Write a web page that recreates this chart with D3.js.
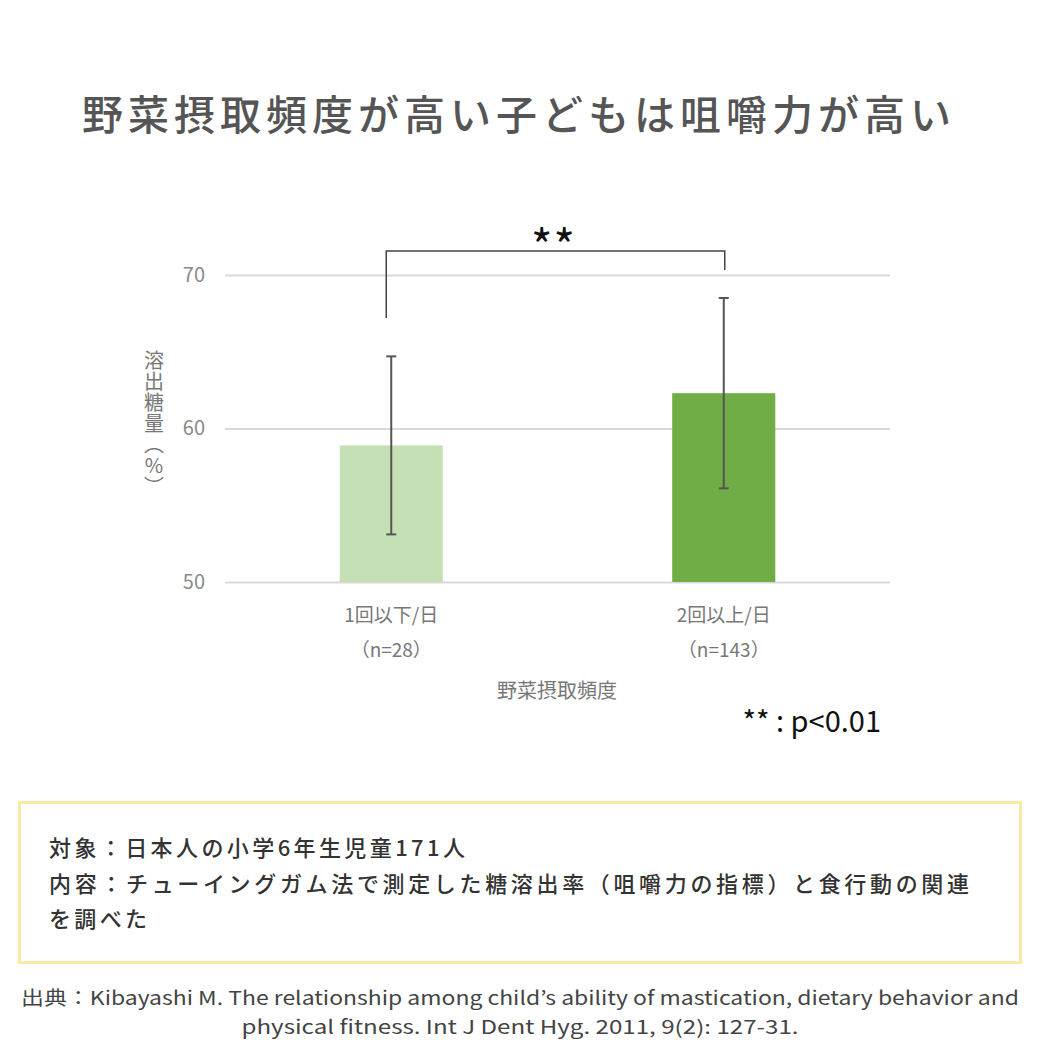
<!DOCTYPE html>
<html><head><meta charset="utf-8">
<script src="https://cdn.jsdelivr.net/npm/d3@7"></script>
<style>
body{margin:0;background:#fff;}
svg{display:block;}
text{font-family:"Noto Sans CJK JP","Noto Sans",sans-serif;}
</style></head>
<body>
<script>
const title = "野菜摂取頻度が高い子どもは咀嚼力が高い";
const categories = ["1回以下/日", "2回以上/日"];
const sampleLabels = ["（n=28）", "（n=143）"];
const means = [58.9, 62.3];
const errors = [5.8, 6.2];
const barColors = ["#c5e0b4", "#70ad47"];
const yTicks = [50, 60, 70];
const yLabel = "溶出糖量（%）";
const xLabel = "野菜摂取頻度";
const sigMark = "**";
const sigNote = "** : p<0.01";
const boxLines = ["対象：日本人の小学6年生児童171人", "内容：チューイングガム法で測定した糖溶出率（咀嚼力の指標）と食行動の関連", "を調べた"];
const citeLines = ["出典：Kibayashi M. The relationship among child’s ability of mastication, dietary behavior and", "physical fitness. Int J Dent Hyg. 2011, 9(2): 127-31."];

const W = 1040, H = 1040;
const svg = d3.select("body").append("svg").attr("width", W).attr("height", H);

svg.append("text").attr("x", 519).attr("y", 112)
  .attr("text-anchor", "middle").attr("dominant-baseline", "central")
  .attr("font-size", 41).attr("font-weight", 500).attr("letter-spacing", 5)
  .attr("fill", "#555").text(title);

const left = 225, right = 890;
const y = d3.scaleLinear().domain([50, 70]).range([582, 275]);
const x = d3.scaleBand().domain(categories).range([left, right]).paddingInner(0.69).paddingOuter(0.345);

// grid
const g = svg.append("g");
const yAxis = d3.axisLeft(y).tickValues(yTicks).tickSize(-(right - left)).tickPadding(20);
const ax = g.append("g").attr("transform", `translate(${left},0)`).call(yAxis);
ax.select(".domain").remove();
ax.selectAll(".tick line").attr("stroke", "#d9d9d9").attr("stroke-width", 2);
ax.selectAll(".tick text").attr("fill", "#8a8a8a").attr("font-size", 20)
  .attr("font-family", "'Noto Sans','Noto Sans CJK JP',sans-serif");

// bars
g.selectAll("rect.bar").data(categories).join("rect")
  .attr("x", d => x(d)).attr("width", x.bandwidth())
  .attr("y", (d, i) => y(means[i])).attr("height", (d, i) => y(50) - y(means[i]))
  .attr("fill", (d, i) => barColors[i]);

// error bars
categories.forEach((c, i) => {
  const cx = x(c) + x.bandwidth() / 2;
  const y1 = y(means[i] + errors[i]), y2 = y(means[i] - errors[i]);
  g.append("line").attr("x1", cx).attr("x2", cx).attr("y1", y1).attr("y2", y2).attr("stroke", "#555").attr("stroke-width", 2);
  [y1, y2].forEach(yy => g.append("line").attr("x1", cx - 5).attr("x2", cx + 5).attr("y1", yy).attr("y2", yy).attr("stroke", "#555").attr("stroke-width", 2));
  svg.append("text").attr("x", cx).attr("y", 613).attr("text-anchor", "middle").attr("dominant-baseline", "central")
    .attr("font-size", 19).attr("fill", "#777").text(c);
  svg.append("text").attr("x", cx).attr("y", 648).attr("text-anchor", "middle").attr("dominant-baseline", "central")
    .attr("font-size", 19).attr("fill", "#777").text(sampleLabels[i]);
});

// significance bracket
const bx1 = x(categories[0]) + x.bandwidth() / 2 - 5, bx2 = x(categories[1]) + x.bandwidth() / 2 + 1;
const by = 251;
svg.append("path").attr("d", `M${bx1},318 V${by} H${bx2} V270`).attr("fill", "none").attr("stroke", "#444").attr("stroke-width", 1.5);
svg.append("text").attr("x", (bx1 + bx2) / 2 - 2).attr("y", 264).attr("text-anchor", "middle")
  .attr("font-size", 46).attr("letter-spacing", 1).attr("fill", "#111")
  .attr("font-family", "'DejaVu Sans',sans-serif").text(sigMark);

// y label vertical
svg.append("text").attr("x", 154).attr("y", 350)
  .style("writing-mode", "vertical-rl").style("text-orientation", "upright")
  .attr("text-anchor", "start").attr("letter-spacing", 1)
  .attr("font-size", 20).attr("fill", "#777").text(yLabel);

// x label
svg.append("text").attr("x", 557).attr("y", 689).attr("text-anchor", "middle").attr("dominant-baseline", "central")
  .attr("font-size", 20).attr("fill", "#777").text(xLabel);

svg.append("text").attr("x", 881).attr("y", 732).attr("text-anchor", "end")
  .attr("font-size", 29).attr("fill", "#111").attr("font-family", "'Noto Sans','Noto Sans CJK JP',sans-serif").text(sigNote);

// info box
svg.append("rect").attr("x", 19.5).attr("y", 802.5).attr("width", 1001).attr("height", 160)
  .attr("fill", "none").attr("stroke", "#fbe9a3").attr("stroke-width", 3);
const boxY = [846, 882, 917];
const boxW = [416, 920, 98];
boxLines.forEach((t, i) => {
  const tx = svg.append("text").attr("x", 49).attr("y", boxY[i]).attr("dominant-baseline", "central")
    .attr("font-size", 22).attr("font-weight", 500).attr("fill", "#333").text(t);
  tx.attr("textLength", boxW[i]).attr("lengthAdjust", "spacing");
});

// citation
const citeY = [996, 1025];
const citeW = [998, 557];
citeLines.forEach((t, i) => {
  svg.append("text").attr("x", 520).attr("y", citeY[i]).attr("text-anchor", "middle").attr("dominant-baseline", "central")
    .attr("font-size", 19).attr("fill", "#444").attr("textLength", citeW[i]).attr("lengthAdjust", "spacingAndGlyphs").text(t);
});
</script>
</body></html>
